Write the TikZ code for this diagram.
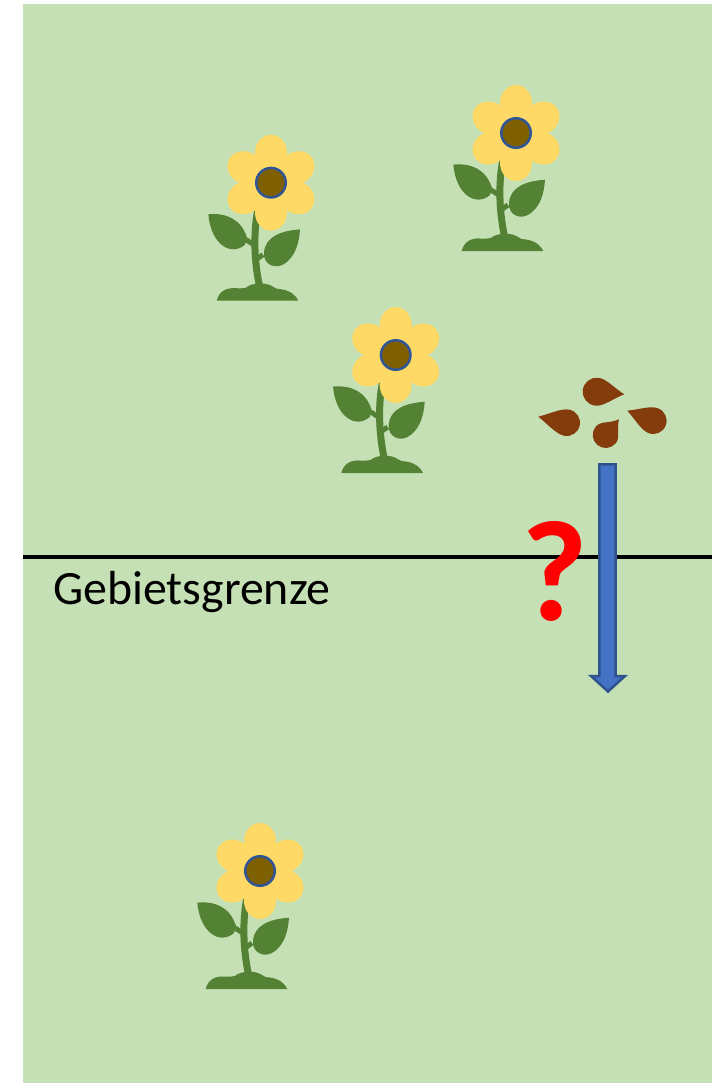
\documentclass[tikz,border=0pt]{standalone}
\usepackage{fontspec}
\setmainfont{Carlito}
\definecolor{meadow}{HTML}{C5E0B4}
\definecolor{petalyellow}{HTML}{FFD966}
\definecolor{coreolive}{HTML}{7F6000}
\definecolor{coreblue}{HTML}{2F5597}
\definecolor{leafgreen}{HTML}{548235}
\definecolor{seedbrown}{HTML}{843C0C}
\definecolor{arrowblue}{HTML}{4472C4}
\definecolor{arrowedge}{HTML}{2F528F}

% one seed: round end centred at (#1,#2), radius #3, pointed tip at (#4,#5)
\newcommand\seeddrop[5]{%
  \pgfmathsetmacro\sdang{atan2(-(#5-#2),#4-#1)}%
  \pgfmathsetmacro\sddist{veclen(#4-#1,#5-#2)}%
  \pgfmathsetmacro\sdca{0.6*#3}%
  \pgfmathsetmacro\sdcb{\sddist-0.8*#3}%
  \pgfmathsetmacro\sdcy{0.4*#3}%
  \fill[seedfill, shift={(#1,#2)}, rotate=\sdang]
    (0,#3) arc[start angle=90, end angle=270, radius=#3]
    .. controls (\sdca,-#3) and (\sdcb,-\sdcy) .. (\sddist,0)
    .. controls (\sdcb,\sdcy) and (\sdca,#3) .. (0,#3) -- cycle;
}

\tikzset{
  seedfill/.style={fill=seedbrown},
  petal/.style={fill=petalyellow},
  leafy/.style={fill=leafgreen},
  stemline/.style={draw=leafgreen, line width=7bp, line cap=round},
  petiole/.style={draw=leafgreen, line width=5bp},
  core/.style={fill=coreolive, draw=coreblue, line width=2.5bp},
  boundary/.style={draw=black, line width=3.5bp},
  blockarrow/.style={fill=arrowblue, draw=arrowedge, line width=2.5bp, line join=miter},
  flower/.pic={
    % stem and leaves
    \draw[stemline] (-12,22) .. controls (-19,50) and (-16,85) .. (-11,105);
    \draw[petiole] (-25,57) -- (-14,64);
    \draw[petiole] (-8,72) -- (-15,77);
    \fill[leafy] (-62.7,31.6) .. controls (-45,30) and (-30,36) .. (-24,55)
      -- (-26,62) .. controls (-40,74) and (-60,62) .. (-62.7,31.6) -- cycle;
    \fill[leafy] (29,46.7) .. controls (10,48) and (-6,54) .. (-7,70)
      .. controls (-8,82) and (5,88) .. (15,80)
      .. controls (25,72) and (28,60) .. (29,46.7) -- cycle;
    % ground mound
    \fill[leafy] (-54.3,118) .. controls (-52,108) and (-44,105) .. (-36,105.5)
      .. controls (-31,105.5) and (-28,106) .. (-25,105)
      .. controls (-20,100) and (-5,99) .. (2,104)
      .. controls (5,106) .. (10,106.5)
      .. controls (20,108) and (25,113) .. (27.3,118) -- cycle;
    % blossom
    \foreach \a in {90,30,-30,-90,-150,150}
      \fill[petal, rotate=\a] (30,0) ellipse[x radius=18, y radius=16];
    \filldraw[core] (0,0) circle[radius=14.75];
  }
}

\begin{document}
\begin{tikzpicture}[x=1bp, y=-1bp]
\useasboundingbox (0,0) rectangle (712,1083);
\fill[meadow] (23,4) rectangle (712,1083);

% flowers
\pic (f1) at (271,182.7) {flower};
\pic (f2) at (516,133) {flower};
\pic (f3) at (395.7,355) {flower};
\pic (f4) at (260,871) {flower};

% seeds
\seeddrop{596.7}{391.7}{14}{624.3}{394.3}
\seeddrop{566.7}{422.7}{13.3}{538.3}{416.7}
\seeddrop{605.7}{435}{13}{619}{419.3}
\seeddrop{653.3}{420.7}{13.3}{627.3}{410.7}

% area boundary
\coordinate (bl) at (23,557);
\coordinate (br) at (712,557);
\draw[boundary] (bl) -- (br);
\node[anchor=base west, inner sep=0, font=\fontsize{48}{58}\selectfont] (label) at (53,604) {Gebietsgrenze};

% question mark
\node[anchor=base, inner sep=0, text=red, font=\bfseries\fontsize{144}{144}\selectfont] (qmark) at (555,620) {?};

% dispersal arrow
\filldraw[blockarrow] (599.3,464.3) -- (615.7,464.3) -- (615.7,676) -- (625,676)
  -- (608,691.5) -- (591,676) -- (599.3,676) -- cycle;
\end{tikzpicture}
\end{document}
